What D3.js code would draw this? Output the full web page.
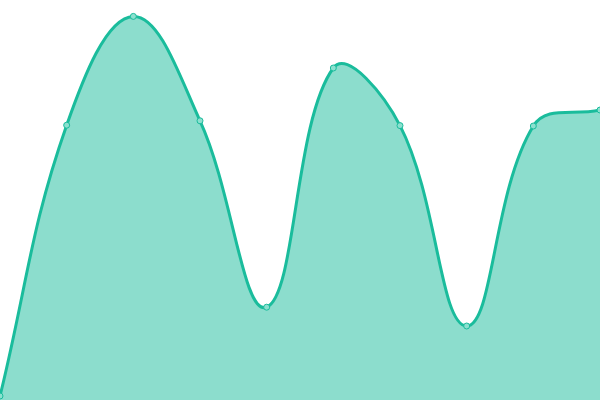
<!DOCTYPE html>
<html>
<head>
<meta charset="utf-8">
<script src="https://cdn.jsdelivr.net/npm/d3@7"></script>
<style>
  html, body { margin: 0; padding: 0; background: #fff; }
  svg { display: block; }
</style>
</head>
<body>
<div id="chart"></div>
<script>
// values (0..100 scale)
const labels = ["A", "B", "C", "D", "E", "F", "G", "H", "I", "J"];
const values = [1, 68.7, 95.9, 69.8, 23.2, 83, 68.6, 18.5, 68.5, 72.5];

const width = 600, height = 400;

// spline with distance-weighted control points (tension 0.4)
function Spline(context, tension) {
  this._context = context;
  this._t = tension;
}
Spline.prototype = {
  areaStart() { this._line = 0; },
  areaEnd() { this._line = NaN; },
  lineStart() { this._x = []; this._y = []; },
  point(x, y) { this._x.push(+x); this._y.push(+y); },
  lineEnd() {
    const x = this._x, y = this._y, n = x.length, t = this._t, ctx = this._context;
    if (n) {
      this._line ? ctx.lineTo(x[0], y[0]) : ctx.moveTo(x[0], y[0]);
      // control points for each point
      const cp = [];
      for (let i = 0; i < n; i++) {
        const pi = Math.max(i - 1, 0), ni = Math.min(i + 1, n - 1);
        const d01 = Math.hypot(x[i] - x[pi], y[i] - y[pi]);
        const d12 = Math.hypot(x[ni] - x[i], y[ni] - y[i]);
        let s01 = d01 / (d01 + d12), s12 = d12 / (d01 + d12);
        if (isNaN(s01)) s01 = 0;
        if (isNaN(s12)) s12 = 0;
        const fa = t * s01, fb = t * s12;
        cp.push({
          px: x[i] - fa * (x[ni] - x[pi]), py: y[i] - fa * (y[ni] - y[pi]),
          nx: x[i] + fb * (x[ni] - x[pi]), ny: y[i] + fb * (y[ni] - y[pi])
        });
      }
      for (let i = 1; i < n; i++) {
        ctx.bezierCurveTo(cp[i - 1].nx, cp[i - 1].ny, cp[i].px, cp[i].py, x[i], y[i]);
      }
    }
    if (this._line || (this._line !== 0 && n === 1)) ctx.closePath();
    this._line = 1 - this._line;
    this._x = this._y = null;
  }
};
const curveSpline = context => new Spline(context, 0.4);

const svg = d3.select("#chart")
  .append("svg")
    .attr("width", width)
    .attr("height", height);

const x = d3.scalePoint()
  .domain(labels)
  .range([0, width]);

const y = d3.scaleLinear()
  .domain([0, 100])
  .range([height, 0]);

const data = labels.map((l, i) => ({ label: l, value: values[i] }));

const area = d3.area()
  .x(d => x(d.label))
  .y0(y(0))
  .y1(d => y(d.value))
  .curve(curveSpline);

const line = d3.line()
  .x(d => x(d.label))
  .y(d => y(d.value))
  .curve(curveSpline);

svg.append("path")
  .datum(data)
  .attr("fill", "#1abc9c")
  .attr("fill-opacity", 0.5)
  .attr("d", area);

svg.append("path")
  .datum(data)
  .attr("fill", "none")
  .attr("stroke", "#1abc9c")
  .attr("stroke-width", 3)
  .attr("d", line);

// points
svg.append("g")
  .selectAll("circle")
  .data(data)
  .join("circle")
    .attr("cx", d => x(d.label))
    .attr("cy", d => y(d.value))
    .attr("r", 3)
    .attr("fill", "#8ce0cf")
    .attr("stroke", "#1abc9c")
    .attr("stroke-width", 1);
</script>
</body>
</html>
